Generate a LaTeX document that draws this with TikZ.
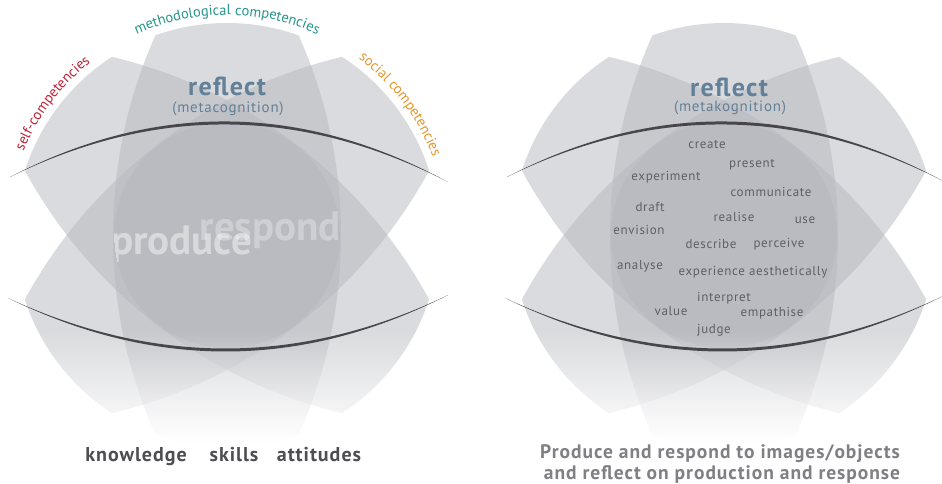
\documentclass[tikz,border=0pt]{standalone}
\usepackage{fontspec}
\setmainfont{PT Sans}
\usetikzlibrary{decorations.text,fadings}

\definecolor{petalgray}{RGB}{183,184,190}
\definecolor{reflectblue}{RGB}{98,128,152}
\definecolor{methteal}{RGB}{38,150,140}
\definecolor{selfred}{RGB}{190,35,55}
\definecolor{socialorange}{RGB}{232,150,45}
\definecolor{linegray}{RGB}{70,70,75}
\definecolor{wordgray}{RGB}{95,95,100}
\definecolor{labeldark}{RGB}{78,78,82}
\definecolor{labelmid}{RGB}{128,128,132}

\tikzfading[name=fadedown, top color=transparent!100, bottom color=transparent!0]

\newfontfamily\spacedfont[LetterSpace=5]{PT Sans}

\tikzset{
  petal/.style={fill=petalgray, fill opacity=0.5},
  arcstroke/.style={fill=linegray},
  word/.style={text=wordgray, font=\spacedfont\fontsize{13}{15}\selectfont, inner sep=0pt},
  reflecttitle/.style={text=reflectblue, font=\spacedfont\bfseries\fontsize{26}{29}\selectfont, inner sep=0pt},
  reflectsub/.style={text=reflectblue, font=\spacedfont\fontsize{15}{17}\selectfont, inner sep=0pt},
  bigword/.style={text=white, font=\bfseries\fontsize{41}{45}\selectfont, inner sep=0pt},
  footleft/.style={text=labeldark, font=\spacedfont\bfseries\fontsize{20}{23}\selectfont, inner sep=0pt},
  footright/.style={text=labelmid, font=\spacedfont\bfseries\fontsize{19.5}{22}\selectfont, inner sep=0pt, align=center},
}

\newcommand\arcfont{\fontsize{14.5}{16}\selectfont}

% one lens-shaped competency petal, cut off by the outer circle
\newcommand\competencypetal[1]{%
  \begin{scope}[rotate=#1]
    \clip (0,0) circle (212);
    \clip (376,0) circle (490);
    \fill[petal] (-376,0) circle (490);
  \end{scope}}

% three petals plus the central produce/respond disc
\newcommand\petalflower{%
  \competencypetal{0}
  \competencypetal{52.6}
  \competencypetal{-52.6}
  \fill[petal] (0,0) circle (113);}

% the two tapered brush arcs
\newcommand\brusharcs{%
  \fill[arcstroke] (-217,58) .. controls (-71,133.7) and (75,132) .. (221,53)
     .. controls (75,128) and (-71,129.7) .. (-217,58) -- cycle;
  \fill[arcstroke] (-219,-63) .. controls (-71.7,-131.3) and (75,-130.3) .. (221,-60)
     .. controls (75,-134.3) and (-71.7,-135.3) .. (-219,-63) -- cycle;}

\begin{document}
\begin{tikzpicture}[x=1pt,y=1pt]
\useasboundingbox (0,0) rectangle (942,-484);
\fill[white] (0,0) rectangle (942,-484);

% petals of both diagrams
\begin{scope}[shift={(227,-235)}]
  \petalflower
\end{scope}
\begin{scope}[shift={(724,-235)}]
  \petalflower
\end{scope}

% produce / respond inside the left disc
\begin{scope}
  \clip (227,-235) circle (113);
  \node[bigword, opacity=0.3, anchor=base east] (respond) at (341,-240) {respond};
  \node[bigword, opacity=0.45, anchor=base west] (produce) at (111,-254) {produce};
\end{scope}

% soft fade towards the bottom
\fill[white, path fading=fadedown] (0,-330) rectangle (942,-442);
\fill[white] (0,-442) rectangle (942,-484);

\begin{scope}[shift={(227,-235)}]
  \brusharcs
  \path[decorate, decoration={text along path, text align=center,
      text={|\arcfont\color{methteal}|methodological competencies}}]
    (125:220) arc[start angle=125, end angle=55, radius=220];
  \path[decorate, decoration={text along path, text align=center,
      text={|\arcfont\color{selfred}|self-competencies}}]
    (173:220) arc[start angle=173, end angle=113, radius=220];
  \path[decorate, decoration={text along path, text align=center,
      text={|\arcfont\color{socialorange}|social competencies}}]
    (67:220) arc[start angle=67, end angle=7, radius=220];
\end{scope}
\begin{scope}[shift={(724,-235)}]
  \brusharcs
\end{scope}

% left diagram labels
\node[reflecttitle] (reflectL) at (227,-86) {reflect};
\node[reflectsub] (metaL) at (228,-109) {(metacognition)};
\node[footleft, anchor=base] (knowledge) at (136,-461) {knowledge};
\node[footleft, anchor=base] (skills) at (234,-461) {skills};
\node[footleft, anchor=base] (attitudes) at (319,-461) {attitudes};

% right diagram labels
\node[reflecttitle] (reflectR) at (729,-87) {reflect};
\node[reflectsub] (metaR) at (730,-108) {(metakognition)};

\node[word] (create) at (707,-145) {create};
\node[word] (present) at (752,-165) {present};
\node[word] (experiment) at (666,-177) {experiment};
\node[word] (communicate) at (771,-192) {communicate};
\node[word] (draft) at (650,-207) {draft};
\node[word] (realise) at (734,-217) {realise};
\node[word] (use) at (805,-220) {use};
\node[word] (envision) at (639,-230) {envision};
\node[word] (describe) at (711,-244) {describe};
\node[word] (perceive) at (779,-244) {perceive};
\node[word] (analyse) at (640,-266) {analyse};
\node[word] (aesthetic) at (753,-272) {experience aesthetically};
\node[word] (interpret) at (724,-298) {interpret};
\node[word] (value) at (671,-311) {value};
\node[word] (empathise) at (772,-313) {empathise};
\node[word] (judge) at (714,-330) {judge};

\node[footright, anchor=base] (caption1) at (720,-458) {Produce and respond to images/objects};
\node[footright, anchor=base] (caption2) at (722,-479) {and reflect on production and response};
\end{tikzpicture}
\end{document}
